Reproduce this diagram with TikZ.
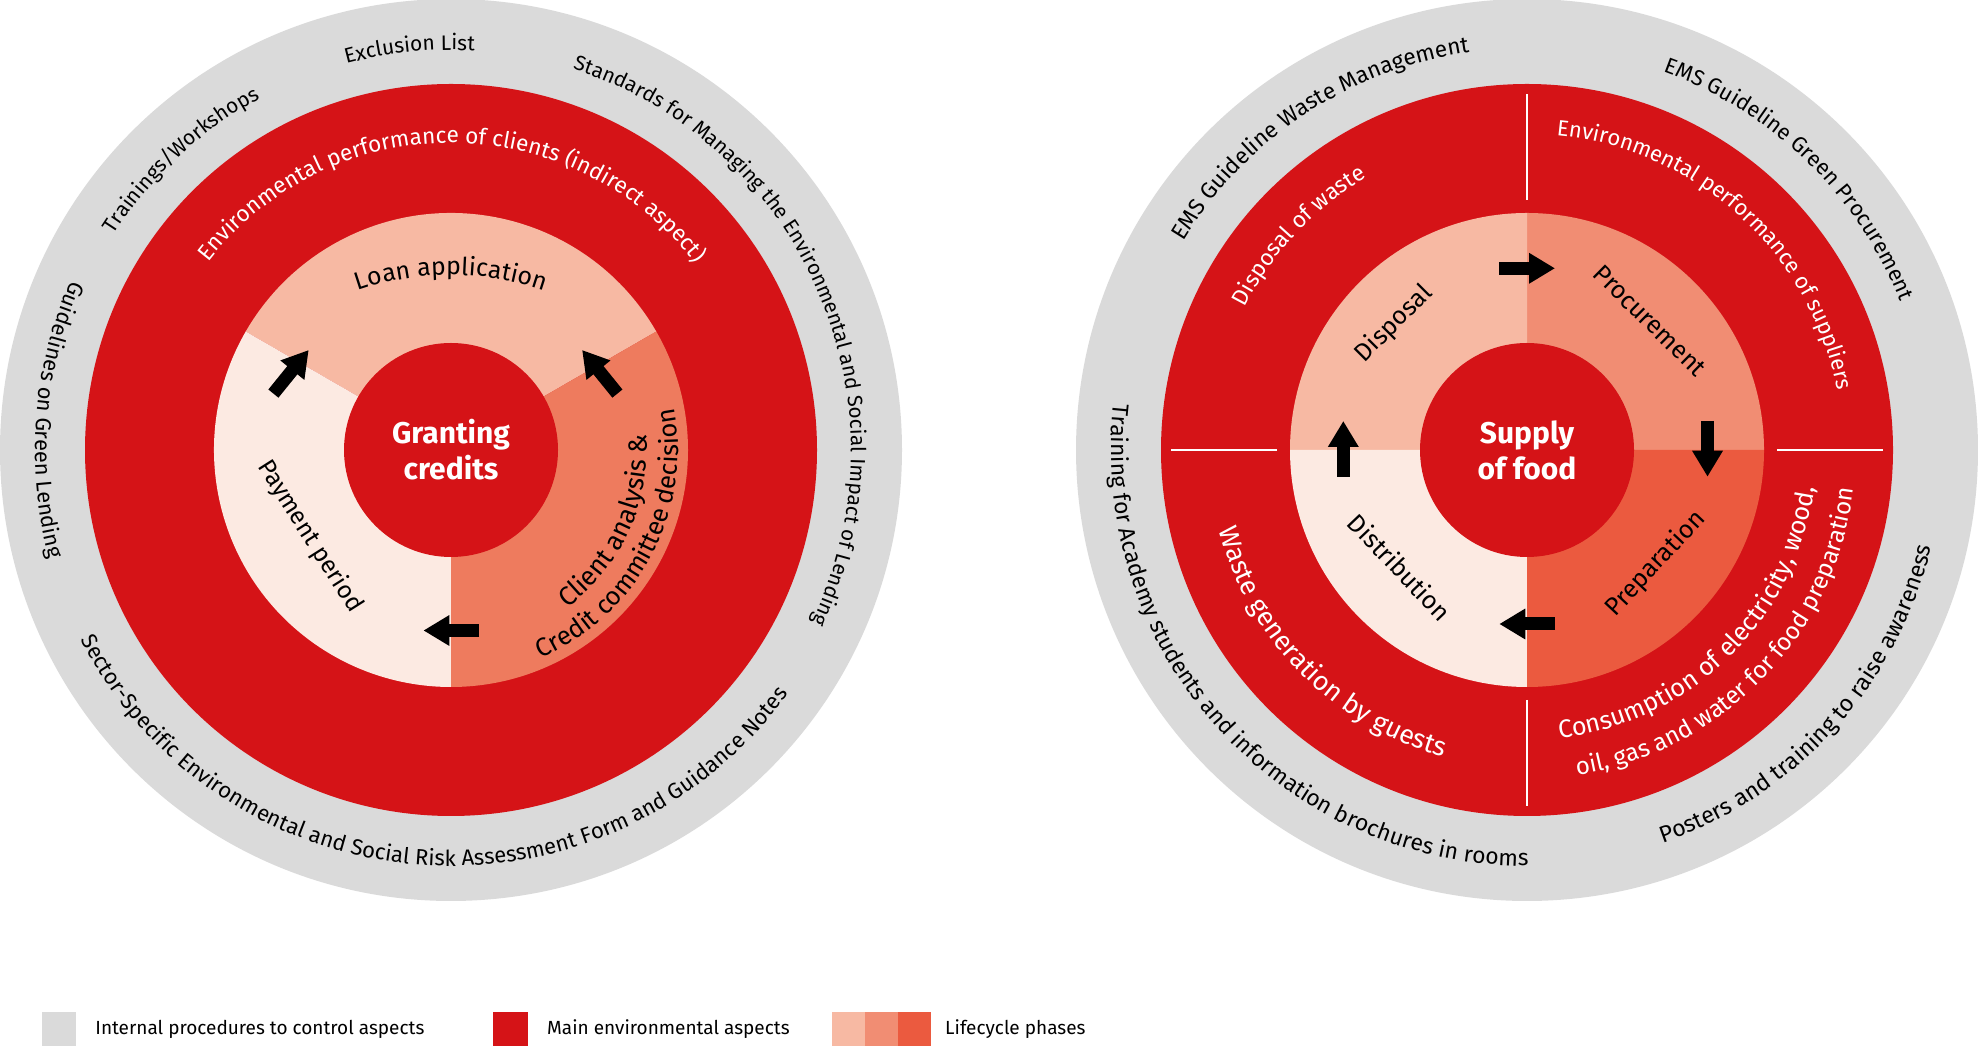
\documentclass[tikz,border=0pt]{standalone}
\usepackage{fontspec}
\setmainfont{Fira Sans}
\usetikzlibrary{decorations.text,arrows.meta}
\definecolor{ringgray}{HTML}{DADADA}
\definecolor{mainred}{HTML}{D51317}
\definecolor{lifeA}{HTML}{F7B9A3}
\definecolor{lifeB}{HTML}{F18D73}
\definecolor{lifeC}{HTML}{EB5A3F}
\definecolor{lifeD}{HTML}{FCEAE2}
\definecolor{lifeE}{HTML}{EE7B5E}
\newlength\rtw
\newsavebox\rtbox
% #1 centre, #2 baseline radius, #3 start angle, #4 end angle, #5 colour, #6 text
\newcommand\ringtxt[6]{%
  \begin{pgfinterruptpicture}%
    \global\setbox\rtbox\hbox{\fontsize{20pt}{24pt}\selectfont #6}%
  \end{pgfinterruptpicture}%
  \rtw=\wd\rtbox
  \ifdim\rtw<1pt \rtw=200pt\fi
  \pgfmathsetmacro\rtfs{20*#2/\rtw*abs(#4-#3)*0.0174533*0.985}%
  \pgfmathsetmacro\rtsgn{(#4>#3)?1:-1}%
  \pgfmathsetmacro\rta{#3-4*\rtsgn}%
  \pgfmathsetmacro\rtb{#4+4*\rtsgn}%
  \path[decorate,decoration={text along path,text align=center,text color=#5,
     text={|\fontsize{\rtfs pt}{\rtfs pt}\selectfont|#6}}]
     ([shift={(\rta:#2pt)}]#1) arc[start angle=\rta,end angle=\rtb,radius=#2pt];%
}
\tikzset{
  blockarrow/.style={draw=black,line width=13pt,-{Triangle[length=26pt,width=29pt]}},
  divider/.style={draw=white,line width=1.3pt},
  lifelabel/.style={inner sep=0pt,font=\fontsize{25.2pt}{30pt}\selectfont,text=black},
  centerlabel/.style={inner sep=0pt,align=center,text=white,font=\bfseries\fontsize{30pt}{36pt}\selectfont},
  legsq/.style={minimum width=34pt,minimum height=34pt,inner sep=0pt,outer sep=0pt},
  legtext/.style={anchor=base west,inner sep=0pt,font=\fontsize{19pt}{23pt}\selectfont,text=black}
}
\begin{document}
\begin{tikzpicture}[x=1pt,y=1pt]
\useasboundingbox (0,0) rectangle (1978,1049);
\coordinate (CL) at (451,599);
\coordinate (CR) at (1527,599);
\coordinate (LA) at (451,490);

% ---------------- left diagram ----------------
\fill[ringgray] (CL) circle[radius=451pt];
\fill[mainred] (CL) circle[radius=366pt];
\fill[lifeA] (CL) -- ([shift={(30:237pt)}]CL) arc[start angle=30,end angle=150,radius=237pt] -- cycle;
\fill[lifeD] (CL) -- ([shift={(150:237pt)}]CL) arc[start angle=150,end angle=270,radius=237pt] -- cycle;
\fill[lifeE] (CL) -- ([shift={(270:237pt)}]CL) arc[start angle=270,end angle=390,radius=237pt] -- cycle;
\fill[mainred] (CL) circle[radius=107pt];

\coordinate (la1s) at ([shift={(-177.6,56.4)}]CL);
\coordinate (la1e) at ([shift={(-142.3,100)}]CL);
\coordinate (la2s) at ([shift={(166.4,56.4)}]CL);
\coordinate (la2e) at ([shift={(131.1,100)}]CL);
\coordinate (la3s) at ([shift={(28.2,-180.5)}]CL);
\coordinate (la3e) at ([shift={(-27.6,-180.5)}]CL);
\draw[blockarrow] (la1s) -- (la1e);
\draw[blockarrow] (la2s) -- (la2e);
\draw[blockarrow] (la3s) -- (la3e);

\node[centerlabel] (granting) at (CL) {Granting\\credits};
\node[lifelabel,rotate=-57.6,font=\fontsize{24.5pt}{30pt}\selectfont] (payment) at ([shift={(-141,-86.4)}]CL) {Payment period};

\ringtxt{CL}{400}{148.1}{117.8}{black}{Trainings/Workshops}
\ringtxt{CL}{400}{105.3}{86.5}{black}{Exclusion List}
\ringtxt{CL}{400}{72.8}{-26}{black}{Standards for Managing the Environmental and Social Impact of Lending}
\ringtxt{CL}{416}{155.7}{195.4}{black}{Guidelines on Green Lending}
\ringtxt{CL}{416}{206.7}{324.6}{black}{Sector-Specific Environmental and Social Risk Assessment Form and Guidance Notes}
\ringtxt{CL}{307}{142.8}{36.8}{white}{Environmental performance of clients (indirect aspect)}
\ringtxt{LA}{284}{109.3}{70.7}{black}{Loan application}
\ringtxt{CL}{196}{-54}{5}{black}{Client analysis {\&}}
\ringtxt{CL}{227}{-67}{11}{black}{Credit committee decision}

% ---------------- right diagram ----------------
\fill[ringgray] (CR) circle[radius=451pt];
\fill[mainred] (CR) circle[radius=366pt];
\fill[lifeB] (CR) -- ([shift={(0:237pt)}]CR) arc[start angle=0,end angle=90,radius=237pt] -- cycle;
\fill[lifeA] (CR) -- ([shift={(90:237pt)}]CR) arc[start angle=90,end angle=180,radius=237pt] -- cycle;
\fill[lifeD] (CR) -- ([shift={(180:237pt)}]CR) arc[start angle=180,end angle=270,radius=237pt] -- cycle;
\fill[lifeC] (CR) -- ([shift={(270:237pt)}]CR) arc[start angle=270,end angle=360,radius=237pt] -- cycle;
\fill[mainred] (CR) circle[radius=107pt];
\foreach \a in {0,90,180,270}
  \draw[divider] ([shift={(\a:250pt)}]CR) -- ([shift={(\a:356pt)}]CR);

\coordinate (ra1s) at ([shift={(-28,181.7)}]CR);
\coordinate (ra1e) at ([shift={(28,181.7)}]CR);
\coordinate (ra2s) at ([shift={(180.5,29)}]CR);
\coordinate (ra2e) at ([shift={(180.5,-26.7)}]CR);
\coordinate (ra3s) at ([shift={(28,-174)}]CR);
\coordinate (ra3e) at ([shift={(-27.7,-174)}]CR);
\coordinate (ra4s) at ([shift={(-183.7,-27)}]CR);
\coordinate (ra4e) at ([shift={(-183.7,29)}]CR);
\draw[blockarrow] (ra1s) -- (ra1e);
\draw[blockarrow] (ra2s) -- (ra2e);
\draw[blockarrow] (ra3s) -- (ra3e);
\draw[blockarrow] (ra4s) -- (ra4e);

\node[centerlabel] (supply) at (CR) {Supply\\of food};
\node[lifelabel,rotate=45] (disposal) at ([shift={(-133.2,126.2)}]CR) {Disposal};
\node[lifelabel,rotate=-44.6] (procurement) at ([shift={(123,129.3)}]CR) {Procurement};
\node[lifelabel,rotate=46.9] (preparation) at ([shift={(128.7,-114)}]CR) {Preparation};
\node[lifelabel,rotate=-46.4] (distribution) at ([shift={(-127,-117.3)}]CR) {Distribution};

\ringtxt{CR}{402}{149}{98}{black}{EMS Guideline Waste Management}
\ringtxt{CR}{402}{70.4}{21.5}{black}{EMS Guideline Green Procurement}
\ringtxt{CR}{416}{173.2}{270.6}{black}{Training for Academy students and information brochures in rooms}
\ringtxt{CR}{416}{-71.1}{-13.4}{black}{Posters and training to raise awareness}
\ringtxt{CR}{316}{153.3}{120.3}{white}{Disposal of waste}
\ringtxt{CR}{316}{85}{10.5}{white}{Environmental performance of suppliers}
\ringtxt{CR}{318}{194.3}{254.9}{white}{Waste generation by guests}
\ringtxt{CR}{290}{-84}{-7}{white}{Consumption of electricity, wood,}
\ringtxt{CR}{329}{-81.5}{-6.5}{white}{oil, gas and water for food preparation}

% ---------------- legend ----------------
\node[legsq,fill=ringgray] (lg1) at (58.6,20.3) {};
\node[legtext] (lt1) at (95.2,14) {Internal procedures to control aspects};
\node[legsq,fill=mainred,minimum width=34.5pt] (lg2) at (510.55,20.3) {};
\node[legtext] (lt2) at (547,14) {Main environmental aspects};
\node[legsq,fill=lifeA,minimum width=33pt] (lg3) at (848.95,20.3) {};
\node[legsq,fill=lifeB,minimum width=33pt] (lg4) at (881.9,20.3) {};
\node[legsq,fill=lifeC,minimum width=33pt] (lg5) at (914.85,20.3) {};
\node[legtext] (lt3) at (945,14) {Lifecycle phases};
\end{tikzpicture}
\end{document}
